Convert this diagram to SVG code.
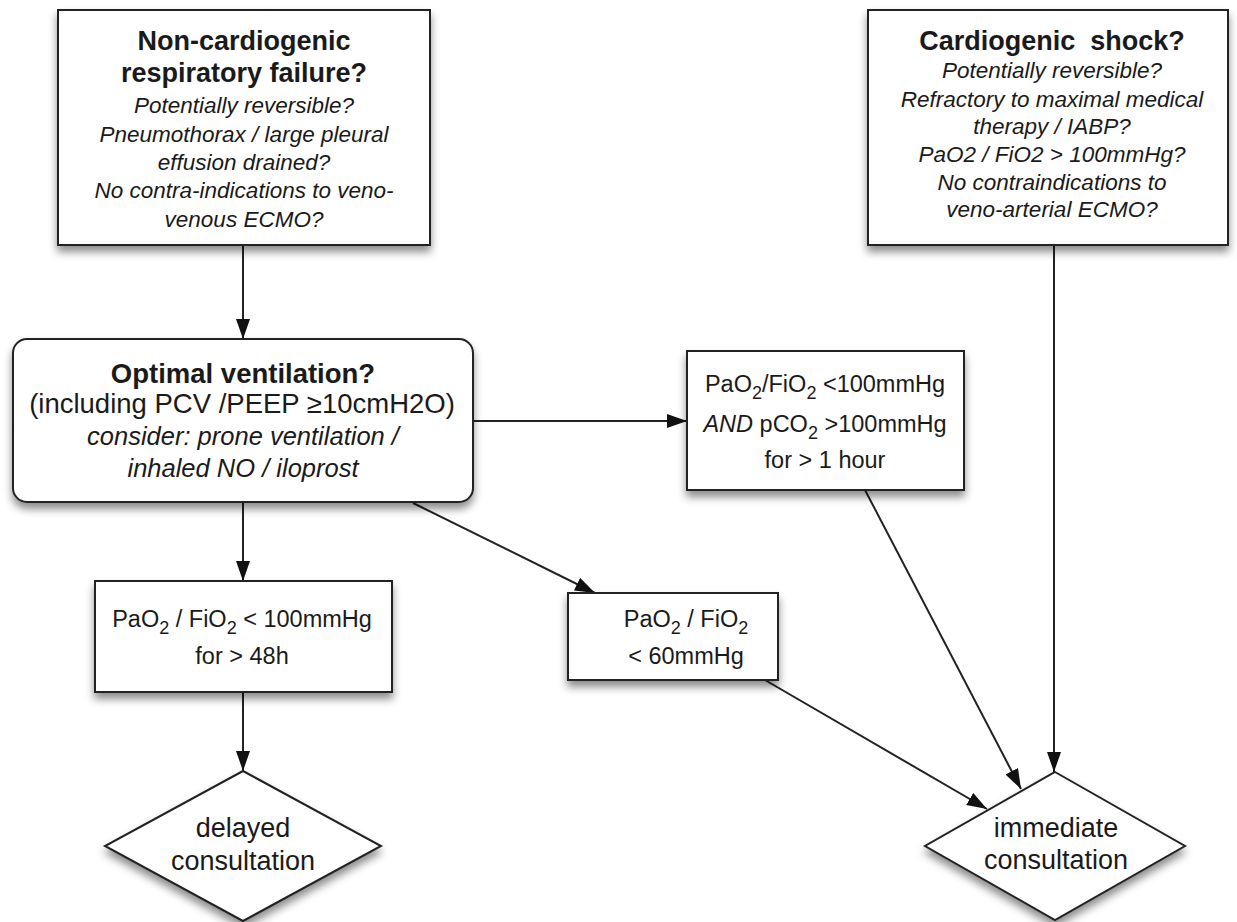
<svg xmlns="http://www.w3.org/2000/svg" width="1237" height="922" viewBox="0 0 1237 922">
<style>
.box{fill:#fff;stroke:#222;stroke-width:2;filter:url(#sh)}
.t{font-family:"Liberation Sans",Arial,sans-serif;fill:#1a1a1a;text-anchor:middle}
.b{font-weight:bold}
.i{font-style:italic}
.c{stroke:#222;stroke-width:2;fill:none;marker-end:url(#ah)}
</style>
<defs>
<filter id="sh" x="-10%" y="-10%" width="125%" height="130%">
<feDropShadow dx="0" dy="6" stdDeviation="4" flood-color="#000" flood-opacity="0.45"/>
</filter>
<marker id="ah" viewBox="0 0 20 14" refX="20" refY="7" markerWidth="20" markerHeight="14" markerUnits="userSpaceOnUse" orient="auto">
<path d="M0,0 L20,7 L0,14 z" fill="#111"/>
</marker>
</defs>
<rect width="1237" height="922" fill="#fff"/>
<g id="connectors">
<path class="c" d="M243,245 L243,339"/>
<path class="c" d="M473,421 L687,421"/>
<path class="c" d="M243,502 L243,581"/>
<path class="c" d="M413,503 L595,593"/>
<path class="c" d="M865,490 L1021,789"/>
<path class="c" d="M765,680 L987,809"/>
<path class="c" d="M1054,245 L1054,772"/>
<path class="c" d="M243,692 L243,771"/>
</g>
<g id="noncardiogenic">
<rect class="box" x="58" y="10" width="372" height="235"/>
<text class="t b" font-size="27" x="244" y="50">Non-cardiogenic</text>
<text class="t b" font-size="27" x="244" y="82">respiratory failure?</text>
<text class="t i" font-size="22.5" x="244" y="113">Potentially reversible?</text>
<text class="t i" font-size="22.5" x="244" y="142">Pneumothorax / large pleural</text>
<text class="t i" font-size="22.5" x="244" y="170">effusion drained?</text>
<text class="t i" font-size="22.5" x="244" y="198">No contra-indications to veno-</text>
<text class="t i" font-size="22.5" x="244" y="227">venous ECMO?</text>
</g>
<g id="cardiogenic">
<rect class="box" x="868" y="10" width="360" height="235"/>
<text class="t b" font-size="27" x="1052" y="50" style="white-space:pre">Cardiogenic  shock?</text>
<text class="t i" font-size="22.5" x="1052" y="78">Potentially reversible?</text>
<text class="t i" font-size="22.5" x="1052" y="107">Refractory to maximal medical</text>
<text class="t i" font-size="22.5" x="1052" y="134">therapy / IABP?</text>
<text class="t i" font-size="22.5" x="1052" y="162">PaO2 / FiO2 &gt; 100mmHg?</text>
<text class="t i" font-size="22.5" x="1052" y="190">No contraindications to</text>
<text class="t i" font-size="22.5" x="1052" y="217">veno-arterial ECMO?</text>
</g>
<g id="optimal">
<rect class="box" x="13" y="339" width="460" height="163" rx="14"/>
<text class="t b" font-size="27.5" x="243" y="383">Optimal ventilation?</text>
<text class="t" font-size="27.5" x="242" y="413">(including PCV /PEEP ≥10cmH2O)</text>
<text class="t i" font-size="25.5" x="243" y="445">consider: prone ventilation /</text>
<text class="t i" font-size="25.5" x="243" y="477">inhaled NO / iloprost</text>
</g>
<g id="hypercapnia">
<rect class="box" x="687" y="351" width="277" height="139"/>
<text class="t" font-size="23.5" x="825" y="392">PaO<tspan font-size="18" dy="7">2</tspan><tspan dy="-7">/FiO</tspan><tspan font-size="18" dy="7">2</tspan><tspan dy="-7"> &lt;100mmHg</tspan></text>
<text class="t" font-size="23.5" x="825" y="432"><tspan font-style="italic">AND</tspan> pCO<tspan font-size="18" dy="7">2</tspan><tspan dy="-7"> &gt;100mmHg</tspan></text>
<text class="t" font-size="23.5" x="825" y="468">for &gt; 1 hour</text>
</g>
<g id="pf48h">
<rect class="box" x="95" y="581" width="297" height="111"/>
<text class="t" font-size="23.5" x="242" y="627">PaO<tspan font-size="18" dy="7">2</tspan><tspan dy="-7"> / FiO</tspan><tspan font-size="18" dy="7">2</tspan><tspan dy="-7"> &lt; 100mmHg</tspan></text>
<text class="t" font-size="23.5" x="242" y="664">for &gt; 48h</text>
</g>
<g id="pf60">
<rect class="box" x="568" y="593" width="210" height="87"/>
<text class="t" font-size="23.5" x="686" y="627">PaO<tspan font-size="18" dy="7">2</tspan><tspan dy="-7"> / FiO</tspan><tspan font-size="18" dy="7">2</tspan></text>
<text class="t" font-size="23.5" x="686" y="664">&lt; 60mmHg</text>
</g>
<g id="delayed">
<polygon class="box" points="243,771 381,846 243,921 105,846"/>
<text class="t" font-size="27" x="243" y="837">delayed</text>
<text class="t" font-size="27" x="243" y="870">consultation</text>
</g>
<g id="immediate">
<polygon class="box" points="1055,772 1185,846 1055,920 925,846"/>
<text class="t" font-size="27" x="1056" y="837">immediate</text>
<text class="t" font-size="27" x="1056" y="869">consultation</text>
</g>
</svg>
